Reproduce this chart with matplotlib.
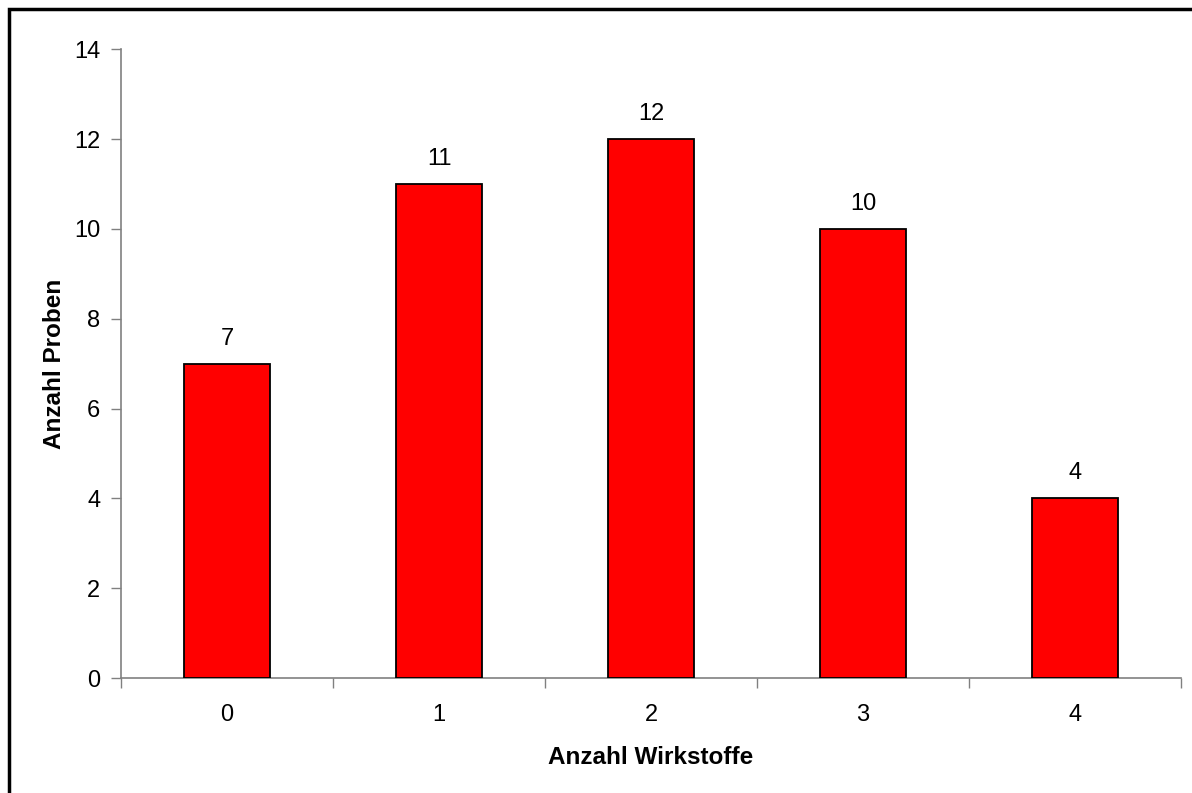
import matplotlib.pyplot as plt
from matplotlib.patches import Rectangle

# data
categories = ["0", "1", "2", "3", "4"]
counts = [7, 11, 12, 10, 4]
y_ticks = [0, 2, 4, 6, 8, 10, 12, 14]

plt.rcParams["font.family"] = ["Liberation Sans", "DejaVu Sans"]

fig = plt.figure(figsize=(11.92, 7.93), dpi=100)
ax = fig.add_axes([0.1015, 0.145, 0.8893, 0.793])

x = list(range(len(categories)))
ax.bar(x, counts, width=0.41, color="#ff0000", edgecolor="black", linewidth=1.3, zorder=3)

for xi, v in zip(x, counts):
    ax.annotate(str(v), (xi, v), xytext=(0, 10), textcoords="offset points",
                ha="center", va="bottom", fontsize=17)

ax.set_xlim(-0.5, len(categories) - 0.5)
ax.set_ylim(0, 14)
ax.set_yticks(y_ticks)
ax.set_xticks(x)
ax.set_xticklabels(categories)
ax.set_xticks([i - 0.5 for i in range(len(categories) + 1)], minor=True)
ax.tick_params(axis="x", which="major", length=0, pad=19, labelsize=17)
ax.tick_params(axis="x", which="minor", length=7, width=1, color="#808080", direction="out")
ax.tick_params(axis="y", length=7, width=1, color="#808080", direction="out", pad=8, labelsize=17)

for s in ["top", "right"]:
    ax.spines[s].set_visible(False)
for s in ["left", "bottom"]:
    ax.spines[s].set_color("#808080")
    ax.spines[s].set_linewidth(1.2)

ax.set_xlabel("Anzahl Wirkstoffe", fontsize=17.5, fontweight="bold", labelpad=14)
ax.set_ylabel("Anzahl Proben", fontsize=17.5, fontweight="bold", labelpad=6)

# chart area border (runs off the right and bottom edges)
fig.patches.append(Rectangle((9 / 1192, -0.1), 1.2, 1 - 9 / 793 + 0.1, transform=fig.transFigure,
                             fill=False, edgecolor="black", linewidth=2.5))

fig.savefig("out.png", dpi=100)
